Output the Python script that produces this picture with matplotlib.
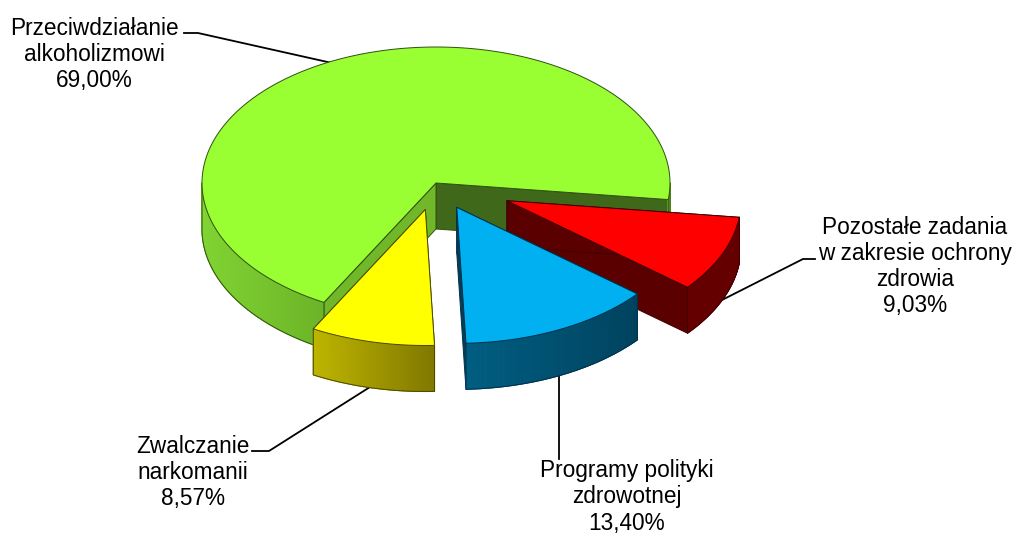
import numpy as np
import matplotlib
matplotlib.use("Agg")
import matplotlib.pyplot as plt
from matplotlib.patches import Polygon
from matplotlib.colors import to_rgb

plt.rcParams['font.family'] = ['Liberation Sans', 'DejaVu Sans']

categories = ["Przeciwdziałanie\nalkoholizmowi", "Zwalczanie\nnarkomanii",
              "Programy polityki\nzdrowotnej",
              "Pozostałe zadania\nw zakresie ochrony\nzdrowia"]
values = [69.00, 8.57, 13.40, 9.03]
value_labels = ["69,00%", "8,57%", "13,40%", "9,03%"]
explode = [0.0, 0.2, 0.2, 0.33]
top_colors = ["#99FF33", "#FFFF00", "#00B0F0", "#FF0000"]
edge_colors = ["#2F5010", "#4A4A00", "#003048", "#400000"]
side_left = ["#80D432", "#BFB600", "#005E82", "#640000"]
side_right = ["#6CB428", "#807800", "#00435F", "#640000"]
wall_colors = ["#70B82A", "#807800", "#003F5A", "#5A0000"]
wall2_colors = ["#40681A", "#807800", "#003F5A", "#5A0000"]

label_xy = [(94, 54.5), (193, 472.5), (627, 497), (915, 266.5)]
leaders = [[(184, 33), (198, 33), (332, 63)],
           [(370, 387), (269, 451), (252, 451)],
           [(559, 376), (559, 459)],
           [(720, 301), (803, 259), (815, 259)]]

CX, CY, RX, RY, DEPTH = 436, 183, 234, 136, 46
START = -7.0   # degrees: green starts here and runs counter-clockwise

fig = plt.figure(figsize=(10.14, 5.34), dpi=100)
ax = fig.add_axes([0, 0, 1, 1])
ax.set_xlim(0, 1014)
ax.set_ylim(534, 0)
ax.axis("off")

z = [2.0]


def nz():
    z[0] += 0.01
    return z[0]


def rim(cx, cy, a1, a2, n=120):
    t = np.radians(np.linspace(a1, a2, n))
    return np.column_stack([cx + RX * np.cos(t), cy - RY * np.sin(t)])


def poly(pts, fc, ec=None, lw=0.8):
    ax.add_patch(Polygon(pts, closed=True, facecolor=fc,
                         edgecolor=ec if ec else fc, linewidth=lw,
                         joinstyle="round", zorder=nz()))


def outer_side(cx, cy, a1, a2, c1, c2, ec):
    """Front-facing outer rim, shaded in strips from left to right."""
    pts = rim(cx, cy, a1, a2, 80)
    xs = pts[:, 0]
    c1, c2 = np.array(to_rgb(c1)), np.array(to_rgb(c2))
    xmin, xmax = xs.min(), xs.max()
    for i in range(len(pts) - 1):
        f = ((xs[i] + xs[i + 1]) / 2 - xmin) / max(xmax - xmin, 1e-6)
        quad = [pts[i], pts[i + 1], pts[i + 1] + [0, DEPTH], pts[i] + [0, DEPTH]]
        poly(quad, tuple(c1 + (c2 - c1) * f), None, 0.8)
    low = pts + [0, DEPTH]
    outline = np.vstack([pts[0], low, pts[-1]])
    ax.plot(outline[:, 0], outline[:, 1], color=ec, lw=0.7,
            solid_joinstyle="round", zorder=nz())


# slice angles from the values, running on from the end of the first slice
spans = [v / 100 * 360 for v in values]
slices = []
a = START
for s in spans:
    slices.append((a, a + s))
    a += s

# draw back to front: green, red, blue, yellow
for i in [0, 3, 2, 1]:
    a1, a2 = slices[i]
    mid = np.radians((a1 + a2) / 2)
    cx = CX + explode[i] * RX * np.cos(mid)
    cy = CY - explode[i] * RY * np.sin(mid)
    c = np.array([cx, cy])
    p1 = rim(cx, cy, a1, a1, 1)[0]
    p2 = rim(cx, cy, a2, a2, 1)[0]
    ec = edge_colors[i]
    # radial walls
    poly([c, p1, p1 + [0, DEPTH], c + [0, DEPTH]], wall2_colors[i], ec, 0.7)
    poly([c, p2, p2 + [0, DEPTH], c + [0, DEPTH]], wall_colors[i], ec, 0.7)
    # outer wall
    if i == 0:
        outer_side(cx, cy, 180, a2, side_left[i], side_right[i], ec)
        outer_side(cx, cy, a1 + 360, 360, side_right[i], side_right[i], ec)
    else:
        outer_side(cx, cy, a1, a2, side_left[i], side_right[i], ec)
    # top face
    poly(np.vstack([c, rim(cx, cy, a1, a2, 240)]), top_colors[i], ec, 0.7)

for pts in leaders:
    pts = np.array(pts)
    ax.plot(pts[:, 0], pts[:, 1], color="black", lw=1.3, zorder=1, solid_joinstyle="miter")

for name, val, (x, y) in zip(categories, value_labels, label_xy):
    ax.text(x, y, name + "\n" + val, ha="center", va="center", fontsize=16.3,
            color="black", linespacing=1.17, zorder=10)

fig.savefig("out.png", dpi=100, facecolor="white")
